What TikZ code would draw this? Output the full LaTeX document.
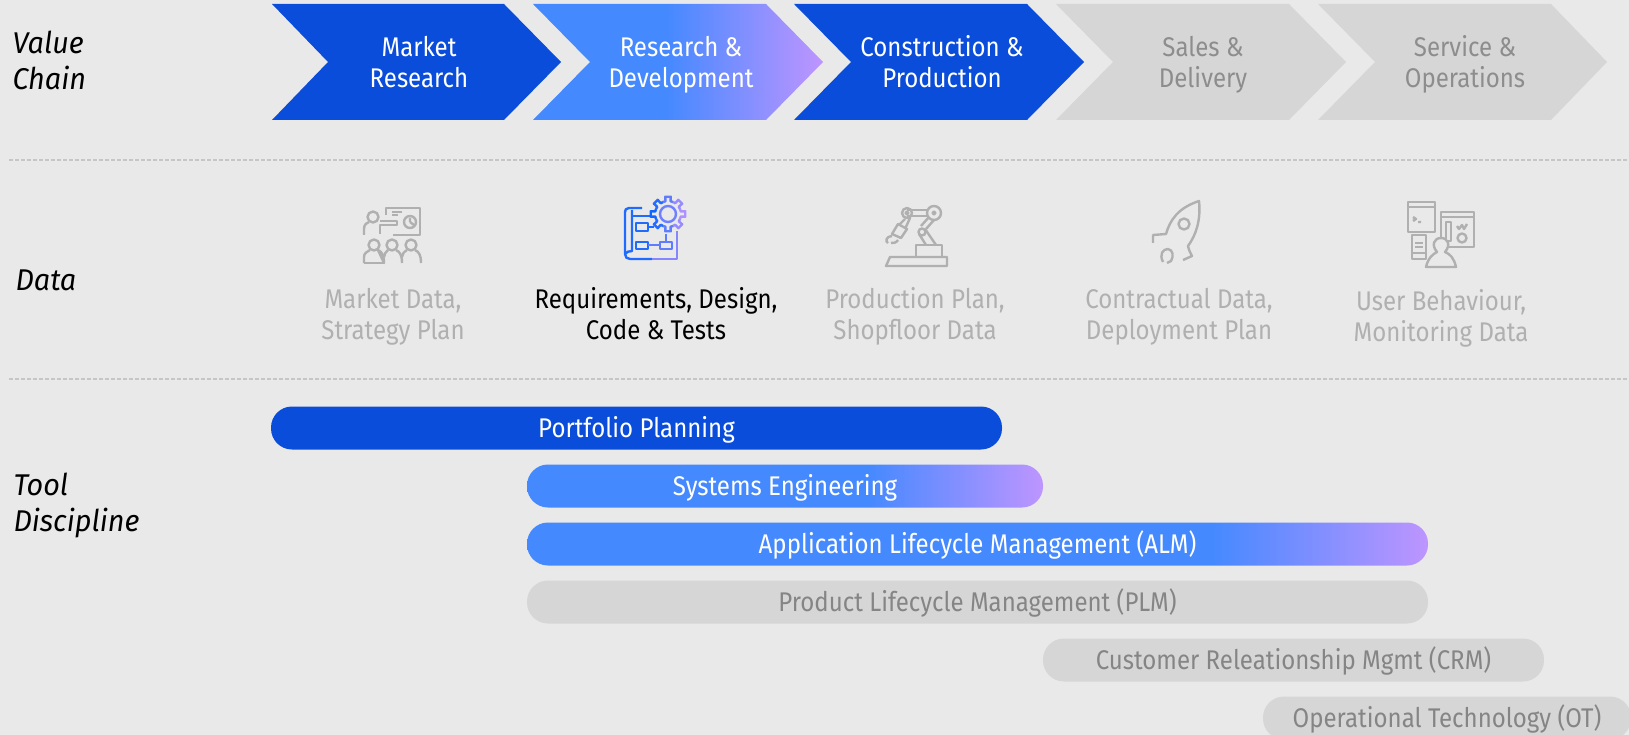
\documentclass[tikz,border=0pt]{standalone}
\usepackage{fontspec}
\setmainfont{Fira Sans}[FakeStretch=0.89,ItalicFeatures={FakeStretch=0.96}]
\usetikzlibrary{shadings}
\definecolor{pagegray}{HTML}{E9E9E9}
\definecolor{dashgray}{HTML}{C6C6C6}
\definecolor{idlegray}{HTML}{D6D6D6}
\definecolor{idletext}{HTML}{858585}
\definecolor{fadedtext}{HTML}{B0B0B0}
\definecolor{brandblue}{HTML}{0A4DDB}
\definecolor{fadeblue}{HTML}{4589FF}
\definecolor{fadepurple}{HTML}{BE95FF}
\definecolor{iconblue}{HTML}{1F6BFF}
\pgfdeclarehorizontalshading{chevfade}{100bp}{color(0bp)=(fadeblue); color(25bp)=(fadeblue); color(48bp)=(fadeblue); color(75bp)=(fadepurple); color(100bp)=(fadepurple)}
\pgfdeclarehorizontalshading{shortfade}{100bp}{color(0bp)=(fadeblue); color(25bp)=(fadeblue); color(58bp)=(fadeblue); color(75bp)=(fadepurple); color(100bp)=(fadepurple)}
\pgfdeclarehorizontalshading{longfade}{100bp}{color(0bp)=(fadeblue); color(25bp)=(fadeblue); color(63bp)=(fadeblue); color(75bp)=(fadepurple); color(100bp)=(fadepurple)}
\tikzset{
  strutted/.style={execute at begin node=\strut,execute at end node=\strut},
  rowlabel/.style={anchor=west,align=left,font=\fontsize{30}{36}\selectfont\itshape},
  chevlabel/.style={strutted,align=center,font=\fontsize{27}{31}\selectfont},
  datalabel/.style={strutted,align=center,text=fadedtext,font=\fontsize{27}{31}\selectfont},
  pillbox/.style={text height=28pt,text depth=9.3pt,rounded corners=21pt,minimum height=43pt,inner sep=0pt,font=\fontsize{27}{31}\selectfont},
  idlepill/.style={pillbox,fill=idlegray,text=idletext},
  divider/.style={dashed,dash pattern=on 4pt off 2pt,line width=1.8pt,dashgray},
  icon/.style={line width=2.4pt,fadedtext,line join=round},
  iconfade/.style={line width=2.4pt,line join=round}
}
\begin{document}
\begin{tikzpicture}[x=1pt,y=-1pt]
% background
\fill[pagegray] (0,0) rectangle (1629,735);
\useasboundingbox (0,0) rectangle (1629,735);
% row labels
\node[rowlabel] (valuechain) at (9,60) {Value\\Chain};
\node[rowlabel] (datarow) at (12,280) {Data};
\node[rowlabel] (tooldiscipline) at (10,505) {Tool\\Discipline};
% dividers
\draw[divider] (9,160)--(1629,160);
\draw[divider] (9,379)--(1629,379);
% value chain
\fill[brandblue] (272,4)--(504,4)--(561,62)--(504,120)--(272,120)--(328,62)--cycle;
\node[chevlabel,text=white] (market) at (419,66.4) {Market\\Research};
\path[shading=chevfade] (533,4)--(766,4)--(823,62)--(766,120)--(533,120)--(590,62)--cycle;
\node[chevlabel,text=white] (research) at (681,66.4) {Research \&\\Development};
\fill[brandblue] (794,4)--(1027,4)--(1084,62)--(1027,120)--(794,120)--(851,62)--cycle;
\node[chevlabel,text=white] (construction) at (942,66.4) {Construction \&\\Production};
\fill[idlegray] (1056,4)--(1289,4)--(1346,62)--(1289,120)--(1056,120)--(1113,62)--cycle;
\node[chevlabel,text=fadedtext!80!black] (sales) at (1203,66.4) {Sales \&\\Delivery};
\fill[idlegray] (1318,4)--(1551,4)--(1607,62)--(1551,120)--(1318,120)--(1375,62)--cycle;
\node[chevlabel,text=fadedtext!80!black] (service) at (1465,66.4) {Service \&\\Operations};
% data labels
\node[datalabel] (marketdata) at (393,318.4) {Market Data,\\Strategy Plan};
\node[datalabel,text=black] (requirements) at (656,318.4) {Requirements, Design,\\Code \& Tests};
\node[datalabel] (production) at (915,318.4) {Production Plan,\\Shopfloor Data};
\node[datalabel] (contractual) at (1179,318.4) {Contractual Data,\\Deployment Plan};
\node[datalabel] (behaviour) at (1441,320.4) {User Behaviour,\\Monitoring Data};
% presenter icon
\draw[icon] (386,215)--(386,208)--(420,208)--(420,235)--(393,235);
\draw[icon] (373,217) circle (5.5);
\draw[icon] (364,235)--(364,229)..controls (364,224) and (367,223)..(369,222);
\draw[icon] (380,234)--(380,225)--(397,225)--(397,221)--(380,221);
\draw[icon] (410,222) circle (6);
\draw[icon] (410,222)--(410,218) (410,222)--(414,225);
\draw[icon] (392,212)--(402,212) (392,215)--(398,215);
\draw[icon] (374,245) circle (5.5) (392,245) circle (5.5) (411,245) circle (5.5);
\draw[icon] (364,263)--(364,257)..controls (364,253) and (367,252)..(370,250);
\draw[icon] (378,250)..controls (382,252) and (384,255)..(384,263)--cycle;
\draw[icon] (384,263)--(364,263);
\draw[icon] (388,250)..controls (386,252) and (384,254)..(384,257);
\draw[icon] (396,250)..controls (400,252) and (402,255)..(402,263);
\draw[icon] (407,250)..controls (404,252) and (402,254)..(402,257);
\draw[icon] (415,250)..controls (419,252) and (421,255)..(421,263);
% blueprint icon
\draw[iconfade,iconblue] (642,208)--(629,208)..controls (626,208) and (625,210)..(625,212)--(625,254)..controls (625,257) and (627,259)..(630,259)--(652,259);
\draw[iconfade,iconblue] (632,210)--(632,251)..controls (629,251) and (626,252)..(625,254);
\draw[iconfade,iconblue] (632,216)--(650,216);
\draw[iconfade,iconblue] (636,223) rectangle (648,231) (648,227)--(654,227);
\draw[iconfade,iconblue] (636,242) rectangle (648,249);
\draw[iconfade,iconblue!60!fadepurple] (648,245)--(660,245) (660,242) rectangle (672,249) (666,242)--(666,234);
\draw[iconfade,iconblue!35!fadepurple] (652,259)--(677,259)--(677,231);
\foreach \a in {0,45,...,315}{
  \pgfmathsetmacro{\mixval}{60-50*cos(\a)}
  \draw[iconfade,color={iconblue!\mixval!fadepurple}] ([shift={(668,214)}]\a-22.5:13)--([shift={(668,214)}]\a-11:13)--([shift={(668,214)}]\a-9:17.5)--([shift={(668,214)}]\a+9:17.5)--([shift={(668,214)}]\a+11:13)--([shift={(668,214)}]\a+22.5:13);
}
\draw[iconfade,iconblue!50!fadepurple] (668,214) circle (8);
% robot icon
\draw[icon] (886,266)--(947,266)--(947,257)--(890,257)--cycle;
\draw[icon] (916,257)--(916,245)--(942,245)--(942,257);
\draw[icon] (926,245)--(919,234) (936,245)--(925,229);
\draw[icon] (922,232) circle (3.5);
\draw[icon] (921,226)--(929,217) (926,229)--(934,220);
\draw[icon] (934,213) circle (7) (934,213) circle (1.5);
\draw[icon] (907,210)--(928,210) (907,216)--(928,216);
\draw[icon] (907,213) circle (5) (907,213) circle (1.5);
\draw[icon] (905,219)--(899,225) (910,218)--(905,229);
\draw[icon] (898,224)--(907,229)--(901,238)--(892,234)--cycle;
\draw[icon] (892,236)..controls (886,236) and (885,242)..(888,243);
\draw[icon] (898,240)..controls (896,243) and (894,243)..(891,243);
% rocket icon
\draw[icon] (1153,243)--(1153,235)--(1166,234)..controls (1170,220) and (1178,208)..(1199,201)..controls (1201,220) and (1196,235)..(1188,246)..controls (1189,250) and (1190,253)..(1192,256)--(1183,260);
\draw[icon] (1184,224) circle (5.5);
\draw[icon] (1163,262)..controls (1159,254) and (1163,249)..(1168,249)..controls (1173,250) and (1174,256)..(1171,261)--(1167,263);
% user icon
\draw[icon] (1408,202) rectangle (1435,232);
\draw[icon] (1408,207)--(1435,207);
\draw[icon] (1413,217)--(1416,219)--(1413,221) (1418,222)--(1421,222);
\draw[icon] (1441,212) rectangle (1474,247);
\draw[icon] (1441,217)--(1474,217);
\draw[icon] (1446,222) rectangle (1451,241);
\draw[icon] (1457,226)--(1459,229)--(1462,225)--(1464,229)--(1467,224);
\draw[icon] (1462,238) circle (4.5);
\draw[icon] (1412,235) rectangle (1426,259);
\draw[icon] (1415,243)--(1423,243) (1415,247)--(1423,247) (1412,253)--(1426,253);
\draw[icon,fill=pagegray] (1426,267)..controls (1428,258) and (1433,254)..(1437,252)..controls (1431,245) and (1434,238)..(1441,238)..controls (1448,238) and (1451,245)..(1445,252)..controls (1450,254) and (1454,258)..(1456,267)--cycle;
% tool disciplines
\node[pillbox,fill=brandblue,text=white,minimum width=731pt] (portfolio) at (636.5,428) {Portfolio Planning};
\node[pillbox,shading=shortfade,text=white,minimum width=516pt] (systems) at (785,486) {Systems Engineering};
\node[pillbox,shading=longfade,text=white,minimum width=901pt] (alm) at (977.5,544) {Application Lifecycle Management (ALM)};
\node[idlepill,minimum width=901pt] (plm) at (977.5,602) {Product Lifecycle Management (PLM)};
\node[idlepill,minimum width=501pt] (crm) at (1293.5,660) {Customer Releationship Mgmt (CRM)};
\node[idlepill,minimum width=368pt] (ot) at (1447,718) {Operational Technology (OT)};
\end{tikzpicture}
\end{document}
